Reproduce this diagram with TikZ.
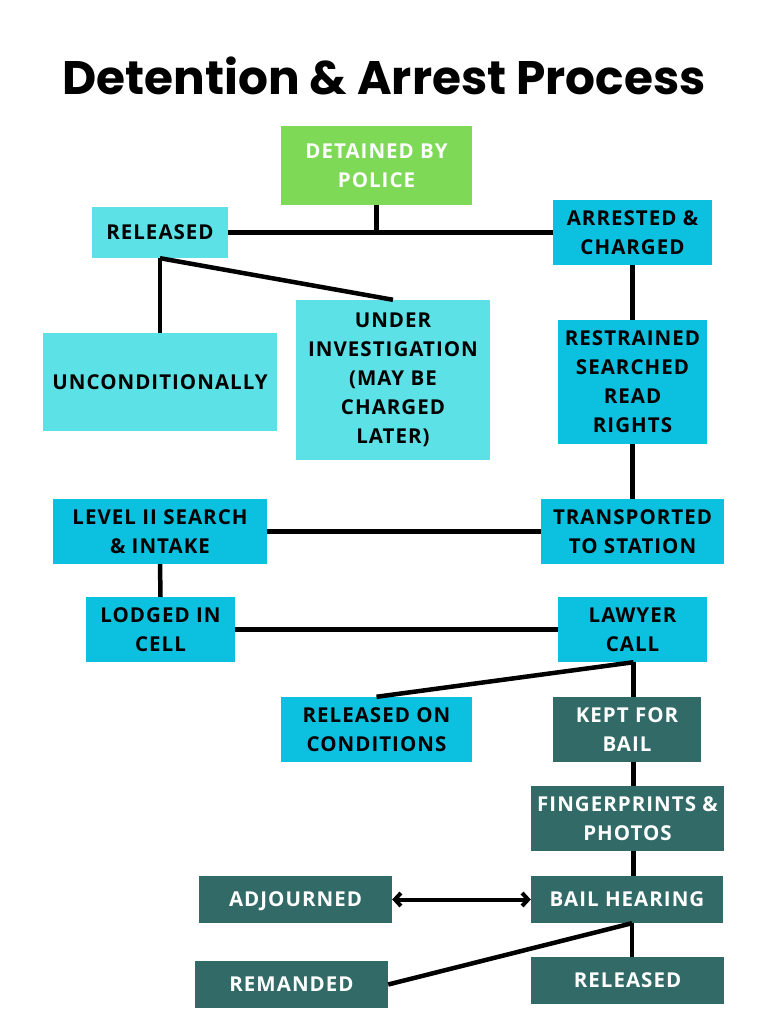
\documentclass[tikz,border=0pt]{standalone}
\usepackage{fontspec}
\setmainfont{Open Sans}[LetterSpace=5]
\newfontfamily\titlefont{Poppins}
\usetikzlibrary{arrows.meta, positioning}
\definecolor{policegreen}{RGB}{126,217,87}
\definecolor{paleteal}{RGB}{92,225,230}
\definecolor{brightteal}{RGB}{12,192,223}
\definecolor{darkteal}{RGB}{49,106,103}
\begin{document}
\begin{tikzpicture}[x=1pt, y=-1pt,
    box/.style={inner sep=0pt, align=center, font=\fontsize{20.5}{29}\selectfont\bfseries},
    palebox/.style={box, fill=paleteal, text=black},
    brightbox/.style={box, fill=brightteal, text=black},
    darkbox/.style={box, fill=darkteal, text=white},
    link/.style={draw=black, line width=4.5pt}]
  \useasboundingbox (0,0) rectangle (768,1024);
  %title
  \node[font=\titlefont\fontsize{47}{52}\selectfont\bfseries] (title) at (384,76) {Detention \& Arrest Process};
  %first split
  \node[box, fill=policegreen, text=white, minimum width=191pt, minimum height=79pt] (detained) at (376.5,165.5) {DETAINED BY\\POLICE};
  \node[palebox, minimum width=136pt, minimum height=51pt] (released) at (160,232.5) {RELEASED};
  \node[brightbox, minimum width=159pt, minimum height=65pt] (arrested) at (632.5,232.5) {ARRESTED \&\\CHARGED};
  %released branch
  \node[palebox, minimum width=234pt, minimum height=98pt] (uncond) at (160,382) {UNCONDITIONALLY};
  \node[palebox, minimum width=194pt, minimum height=160pt] (underinv) at (393,380) {UNDER\\INVESTIGATION\\(MAY BE\\CHARGED\\LATER)};
  %arrested branch
  \node[brightbox, minimum width=149pt, minimum height=124pt] (restrained) at (632.5,382) {RESTRAINED\\SEARCHED\\READ\\RIGHTS};
  \node[brightbox, minimum width=183pt, minimum height=65pt] (transported) at (632.5,531.5) {TRANSPORTED\\TO STATION};
  \node[brightbox, minimum width=214pt, minimum height=65pt] (levelii) at (160,531.5) {LEVEL II SEARCH\\\& INTAKE};
  \node[brightbox, minimum width=149pt, minimum height=65pt] (lodged) at (160.5,629.5) {LODGED IN\\CELL};
  \node[brightbox, minimum width=149pt, minimum height=65pt] (lawyer) at (632.5,629.5) {LAWYER\\CALL};
  \node[brightbox, minimum width=191pt, minimum height=65pt] (relcond) at (376.5,729.5) {RELEASED ON\\CONDITIONS};
  %bail
  \node[darkbox, minimum width=148pt, minimum height=65pt] (kept) at (627,729.5) {KEPT FOR\\BAIL};
  \node[darkbox, minimum width=193pt, minimum height=65pt] (prints) at (627.5,818.5) {FINGERPRINTS \&\\PHOTOS};
  \node[darkbox, minimum width=192pt, minimum height=47pt] (hearing) at (627,899.5) {BAIL HEARING};
  \node[darkbox, text depth=0pt, minimum width=193pt, minimum height=47pt] (adjourned) at (295.5,899.5) {ADJOURNED};
  \node[darkbox, minimum width=193pt, minimum height=47pt] (remanded) at (291.5,984.5) {REMANDED};
  \node[darkbox, minimum width=193pt, minimum height=47pt] (freed) at (627.5,980.5) {RELEASED};
  \coordinate (lawyerfoot) at ([xshift=1pt]lawyer.south);
  \coordinate (hearingfoot) at ([xshift=5pt]hearing.south);
  %connectors
  \draw[link] (detained.south) -- (detained.south |- released.east);
  \draw[link] (released.east) -- (arrested.west);
  \draw[link] (released.south) -- (uncond.north);
  \draw[link] (released.south) -- (underinv.north);
  \draw[link] (arrested.south) -- (restrained.north);
  \draw[link] (restrained.south) -- (transported.north);
  \draw[link] (transported.west) -- (levelii.east);
  \draw[link] (levelii.south) -- (lodged.north);
  \draw[link] (lodged.east) -- (lawyer.west);
  \draw[link] (lawyerfoot) -- (relcond.north);
  \draw[link] (lawyerfoot) -- (lawyerfoot |- kept.north);
  \draw[link] (lawyerfoot |- kept.south) -- (lawyerfoot |- prints.north);
  \draw[link] (lawyerfoot |- prints.south) -- (lawyerfoot |- hearing.north);
  \draw[link, {Straight Barb[length=6pt,width=13pt]}-{Straight Barb[length=6pt,width=13pt]}, line width=4pt] (adjourned.east) -- (hearing.west);
  \draw[link] (hearingfoot) -- (hearingfoot |- freed.north);
  \draw[link] (hearingfoot) -- (remanded.east);
\end{tikzpicture}
\end{document}
